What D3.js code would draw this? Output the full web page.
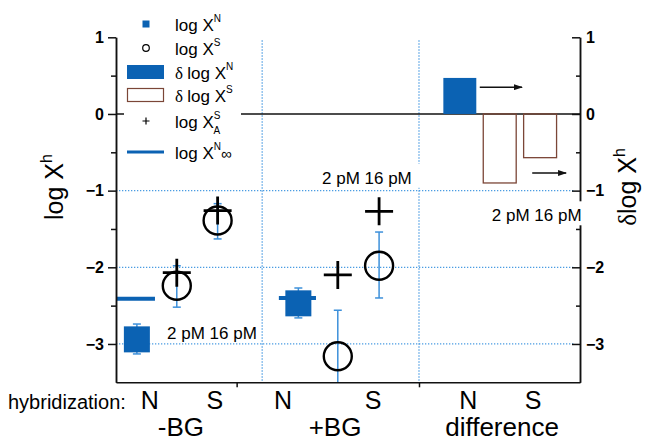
<!DOCTYPE html>
<html>
<head>
<meta charset="utf-8">
<script src="https://cdn.jsdelivr.net/npm/d3@7"></script>
<style>
  body { margin: 0; background: #fff; }
  svg { font-family: "Liberation Sans", Arial, sans-serif; }
</style>
</head>
<body>
<svg id="chart" width="653" height="443"></svg>
<script>
// values (x in arbitrary position units 0..10)
var yTicks = [1, 0, -1, -2, -3];
var yMinor = [0.5, -0.5, -1.5, -2.5];
var gridY = [-1, -2, -3];
var gridX = [3.15, 6.53];
var groupTicks = [2.6, 6.53];
var hybLabels = ['N', 'S', 'N', 'S', 'N', 'S'];
var hybPos = [0.73, 2.13, 3.6, 5.54, 7.59, 8.99];
var groupLabels = ['-BG', '+BG', 'difference'];
var groupPos = [1.4, 4.72, 8.32];

// log X^N (filled squares)
var logXN = [
  {x: 0.45, v: -2.94, lo: -3.13, hi: -2.74},
  {x: 3.93, v: -2.47, lo: -2.66, hi: -2.27}
];
// log X^S (open circles)
var logXS = [
  {x: 1.31, v: -2.24, lo: -2.52, hi: -1.98},
  {x: 2.19, v: -1.39, lo: -1.63, hi: -1.17},
  {x: 4.78, v: -3.16, lo: -3.8, hi: -2.56},
  {x: 5.67, v: -1.98, lo: -2.40, hi: -1.54}
];
// log X^S_A (crosses)
var logXSA = [
  {x: 1.31, v: -2.07},
  {x: 2.19, v: -1.26},
  {x: 4.78, v: -2.10},
  {x: 5.67, v: -1.27}
];
// log X^N_inf (short lines)
var logXNinf = [
  {x0: 0.02, x1: 0.84, v: -2.41},
  {x0: 3.51, x1: 4.31, v: -2.40}
];
// difference bars (right axis)
var deltaN = [{x: 7.41, v: 0.47}];
var deltaS = [{x: 8.27, v: -0.90}, {x: 9.14, v: -0.57}];
var barWidth = 0.71;
var arrows = [
  {x0: 7.84, x1: 8.75, v: 0.35},
  {x0: 8.97, x1: 9.70, v: -0.77}
];
var concLabels = [
  {x: 1.10, v: -2.93, bg: false},
  {x: 4.44, v: -0.91, bg: true},
  {x: 8.10, v: -1.40, bg: true}
];

var BLUE = '#0b62b3', ERR = '#3d90da', GRID = '#4a9ce2', BROWN = '#7b4637';

var svg = d3.select('#chart');
var x = d3.scaleLinear().domain([0, 10]).range([116, 580]);
var y = d3.scaleLinear().domain([-3.5, 1]).range([382.3, 37.3]);
var yR = d3.scaleLinear().domain([-3.5, 1]).range([382.3, 37.3]);

svg.append('defs').append('marker')
  .attr('id', 'head')
  .attr('markerWidth', 9).attr('markerHeight', 6)
  .attr('refX', 8).attr('refY', 3)
  .attr('orient', 'auto').attr('markerUnits', 'userSpaceOnUse')
  .append('path').attr('d', 'M0,0 L9,3 L0,6 z').attr('fill', '#111');

// dotted grid
svg.append('g').selectAll('line').data(gridY).enter().append('line')
  .attr('x1', x(0)).attr('x2', x(10) - 6)
  .attr('y1', function(d) { return y(d); }).attr('y2', function(d) { return y(d); })
  .attr('stroke', GRID).attr('stroke-width', 1.2).attr('stroke-dasharray', '1.3,1.7');
svg.append('g').selectAll('line').data(gridX).enter().append('line')
  .attr('x1', function(d) { return x(d); }).attr('x2', function(d) { return x(d); })
  .attr('y1', y(0.96)).attr('y2', y(-3.5))
  .attr('stroke', GRID).attr('stroke-width', 1.2).attr('stroke-dasharray', '1.3,1.7');

// zero line
svg.append('line')
  .attr('x1', x(0)).attr('x2', x(10)).attr('y1', y(0)).attr('y2', y(0))
  .attr('stroke', '#111').attr('stroke-width', 1.6);

// difference bars
svg.append('g').selectAll('rect').data(deltaN).enter().append('rect')
  .attr('x', function(d) { return x(d.x - barWidth / 2); })
  .attr('width', x(barWidth) - x(0))
  .attr('y', function(d) { return yR(d.v); })
  .attr('height', function(d) { return yR(0) - yR(d.v); })
  .attr('fill', BLUE);
svg.append('g').selectAll('rect').data(deltaS).enter().append('rect')
  .attr('x', function(d) { return x(d.x - barWidth / 2); })
  .attr('width', x(barWidth) - x(0))
  .attr('y', yR(0))
  .attr('height', function(d) { return yR(d.v) - yR(0); })
  .attr('fill', 'none').attr('stroke', BROWN).attr('stroke-width', 1.3);

svg.append('g').selectAll('line').data(arrows).enter().append('line')
  .attr('x1', function(d) { return x(d.x0); }).attr('x2', function(d) { return x(d.x1); })
  .attr('y1', function(d) { return yR(d.v); }).attr('y2', function(d) { return yR(d.v); })
  .attr('stroke', '#111').attr('stroke-width', 1.5)
  .attr('marker-end', 'url(#head)');

// error bars
function errorBars(data) {
  var g = svg.append('g').attr('stroke', ERR).attr('stroke-width', 1.5);
  data.forEach(function(d) {
    var lo = Math.max(d.lo, -3.5);
    g.append('line').attr('x1', x(d.x)).attr('x2', x(d.x)).attr('y1', y(d.hi)).attr('y2', y(lo));
    g.append('line').attr('x1', x(d.x) - 4).attr('x2', x(d.x) + 4).attr('y1', y(d.hi)).attr('y2', y(d.hi));
    if (d.lo > -3.5) {
      g.append('line').attr('x1', x(d.x) - 4).attr('x2', x(d.x) + 4).attr('y1', y(d.lo)).attr('y2', y(d.lo));
    }
  });
}
errorBars(logXN);
errorBars(logXS);

svg.append('g').selectAll('line').data(logXNinf).enter().append('line')
  .attr('x1', function(d) { return x(d.x0); }).attr('x2', function(d) { return x(d.x1); })
  .attr('y1', function(d) { return y(d.v); }).attr('y2', function(d) { return y(d.v); })
  .attr('stroke', BLUE).attr('stroke-width', 4);

var SQ = 26;
svg.append('g').selectAll('rect').data(logXN).enter().append('rect')
  .attr('x', function(d) { return x(d.x) - SQ / 2; })
  .attr('y', function(d) { return y(d.v) - SQ / 2; })
  .attr('width', SQ).attr('height', SQ)
  .attr('fill', BLUE);

svg.append('g').selectAll('circle').data(logXS).enter().append('circle')
  .attr('cx', function(d) { return x(d.x); })
  .attr('cy', function(d) { return y(d.v); })
  .attr('r', 14)
  .attr('fill', 'none').attr('stroke', '#000').attr('stroke-width', 2.4);

var CR = 14;
svg.append('g').selectAll('path').data(logXSA).enter().append('path')
  .attr('d', function(d) {
    var cx = x(d.x), cy = y(d.v);
    return 'M' + (cx - CR) + ',' + cy + 'H' + (cx + CR) + 'M' + cx + ',' + (cy - CR) + 'V' + (cy + CR);
  })
  .attr('stroke', '#000').attr('stroke-width', 2.8).attr('fill', 'none');

// axes
var axisFont = function(g) {
  g.selectAll('text').attr('font-size', 16).attr('font-weight', 'bold')
    .attr('font-family', '"Liberation Sans", Arial, sans-serif').attr('fill', '#000');
  g.selectAll('line, path').attr('stroke', '#111').attr('stroke-width', 1.5);
};
svg.append('g').attr('transform', 'translate(' + x(0) + ',0)')
  .call(d3.axisLeft(y).tickValues(yTicks).tickSize(8).tickSizeOuter(0).tickPadding(4)
    .tickFormat(function(d) { return d === 0 ? '0' : d3.format('d')(d); }))
  .call(axisFont);
svg.append('g').attr('transform', 'translate(' + x(0) + ',0)')
  .call(d3.axisLeft(y).tickValues(yMinor).tickSize(5).tickSizeOuter(0).tickFormat(''))
  .call(axisFont);
svg.append('g').attr('transform', 'translate(' + x(10) + ',0)')
  .call(d3.axisRight(yR).tickValues(yTicks).tickSize(-8).tickSizeOuter(0).tickPadding(6)
    .tickFormat(function(d) { return d === 0 ? '0' : d3.format('d')(d); }))
  .call(axisFont);
svg.append('g').attr('transform', 'translate(' + x(10) + ',0)')
  .call(d3.axisRight(yR).tickValues(yMinor).tickSize(-4).tickSizeOuter(0).tickFormat(''))
  .call(axisFont);
svg.append('g').attr('transform', 'translate(0,' + y(-3.5) + ')')
  .call(d3.axisBottom(x).tickValues(groupTicks).tickSize(5).tickSizeOuter(0).tickFormat(''))
  .call(axisFont);

// "2 pM 16 pM" annotations
concLabels.forEach(function(d) {
  if (d.bg) {
    svg.append('rect').attr('x', x(d.x) - 2).attr('y', y(d.v) - 20)
      .attr('width', 100).attr('height', 24).attr('fill', '#fff');
  }
  svg.append('text').attr('x', x(d.x)).attr('y', y(d.v))
    .attr('font-size', 17).attr('fill', '#000').text('2 pM 16 pM');
});

// bottom labels
svg.append('text').attr('x', 8).attr('y', 409).attr('font-size', 20).text('hybridization:');
svg.append('g').selectAll('text').data(hybLabels).enter().append('text')
  .attr('x', function(d, i) { return x(hybPos[i]); }).attr('y', 409)
  .attr('text-anchor', 'middle').attr('font-size', 25).text(function(d) { return d; });
svg.append('g').selectAll('text').data(groupLabels).enter().append('text')
  .attr('x', function(d, i) { return x(groupPos[i]); }).attr('y', 436)
  .attr('text-anchor', 'middle').attr('font-size', 26).text(function(d) { return d; });

// axis titles
var lt = svg.append('text').attr('transform', 'translate(63,187) rotate(-90)')
  .attr('text-anchor', 'middle').attr('font-size', 25);
lt.append('tspan').text('log X');
lt.append('tspan').attr('font-size', 16).attr('dy', -11).text('h');
var rt = svg.append('text').attr('transform', 'translate(636,187) rotate(-90)')
  .attr('text-anchor', 'middle').attr('font-size', 25);
rt.append('tspan').attr('font-family', '"Liberation Serif", serif').text('\u03b4');
rt.append('tspan').text('log X');
rt.append('tspan').attr('font-size', 16).attr('dy', -11).text('h');

// legend
var legend = svg.append('g').attr('class', 'legend');
legend.append('rect').attr('x', 124).attr('y', 6).attr('width', 117).attr('height', 162).attr('fill', '#fff');
var rowY = [24, 48, 72, 95, 121, 152];
var sx = 146;
legend.append('rect').attr('x', sx - 3.5).attr('y', rowY[0] - 3.5).attr('width', 7).attr('height', 7).attr('fill', BLUE);
legend.append('circle').attr('cx', sx).attr('cy', rowY[1]).attr('r', 3.3).attr('fill', 'none').attr('stroke', '#000').attr('stroke-width', 1.2);
legend.append('rect').attr('x', 127).attr('y', rowY[2] - 7).attr('width', 37).attr('height', 14).attr('fill', BLUE);
legend.append('rect').attr('x', 127.5).attr('y', rowY[3] - 6.5).attr('width', 36).attr('height', 13).attr('fill', 'none').attr('stroke', BROWN).attr('stroke-width', 1.2);
legend.append('path').attr('d', 'M' + (sx - 3.5) + ',' + rowY[4] + 'H' + (sx + 3.5) + 'M' + sx + ',' + (rowY[4] - 3.5) + 'V' + (rowY[4] + 3.5))
  .attr('stroke', '#000').attr('stroke-width', 1.2);
legend.append('line').attr('x1', 127).attr('x2', 164).attr('y1', rowY[5]).attr('y2', rowY[5]).attr('stroke', BLUE).attr('stroke-width', 3);

function legendText(i, parts) {
  var t = legend.append('text').attr('x', 175).attr('y', rowY[i] + 7).attr('font-size', 17);
  parts.forEach(function(p) {
    var s = t.append('tspan').text(p.t);
    if (p.size) s.attr('font-size', p.size);
    if (p.dy) s.attr('dy', p.dy);
    if (p.dx) s.attr('dx', p.dx);
    if (p.serif) s.attr('font-family', '"Liberation Serif", serif');
  });
}
legendText(0, [{t: 'log X'}, {t: 'N', size: 10, dy: -9}]);
legendText(1, [{t: 'log X'}, {t: 'S', size: 10, dy: -9}]);
legendText(2, [{t: '\u03b4 ', serif: true}, {t: 'log X'}, {t: 'N', size: 10, dy: -9}]);
legendText(3, [{t: '\u03b4 ', serif: true}, {t: 'log X'}, {t: 'S', size: 10, dy: -9}]);
legendText(4, [{t: 'log X'}, {t: 'S', size: 10, dy: -9}, {t: 'A', size: 10, dy: 15, dx: -7}]);
legendText(5, [{t: 'log X'}, {t: 'N', size: 10, dy: -9}, {t: '\u221e', size: 15, dy: 9}]);
</script>
</body>
</html>
